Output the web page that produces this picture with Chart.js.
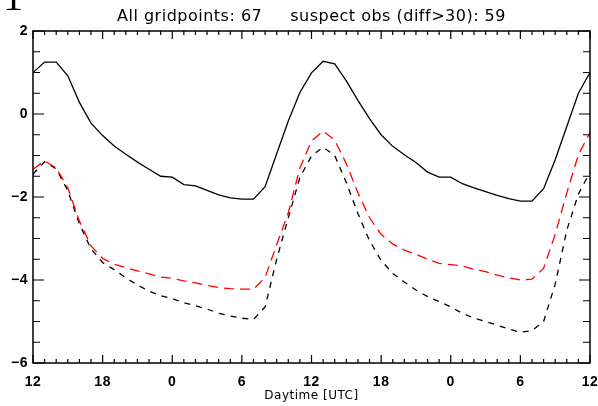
<!DOCTYPE html>
<html lang="en">
<head>
    <meta charset="UTF-8">
    <title>All gridpoints / suspect obs</title>
    <style>
        body {
            margin: 0;
            background: #ffffff;
            overflow: hidden;
        }
        .wrap {
            position: relative;
            width: 598px;
            height: 406px;
        }
        .corner {
            position: absolute;
            left: 3px;
            top: -27px;
            font-family: 'Liberation Serif', serif;
            font-size: 40px;
            color: #000;
        }
    </style>
</head>
<body>
    <div class="wrap">
        <canvas id="chart" width="598" height="406"></canvas>
        <div class="corner">1</div>
    </div>

    <script src="https://cdn.jsdelivr.net/npm/chart.js@4/dist/chart.umd.min.js"></script>
    <script>
        // hours since 12 UTC
        const hours = [0, 1, 2, 3, 4, 5, 6, 7, 8, 9, 10, 11, 12, 13, 14, 15, 16, 17, 18, 19, 20, 21, 22, 23, 24,
                       25, 26, 27, 28, 29, 30, 31, 32, 33, 34, 35, 36, 37, 38, 39, 40, 41, 42, 43, 44, 45, 46, 47, 48];
        const xTickLabels = ['12', '18', '0', '6', '12', '18', '0', '6', '12'];
        const yTickValues = [2, 0, -2, -4, -6];

        // black solid line
        const solidLine = [1.0, 1.25, 1.25, 0.92, 0.28, -0.22, -0.52, -0.77, -0.97, -1.16, -1.33, -1.5,
                           -1.52, -1.7, -1.73, -1.84, -1.95, -2.02, -2.05, -2.05, -1.75, -0.96, -0.17, 0.52,
                           0.99, 1.27, 1.21, 0.8, 0.33, -0.11, -0.5, -0.78, -0.98, -1.17, -1.4, -1.52,
                           -1.52, -1.68, -1.78, -1.87, -1.96, -2.04, -2.1, -2.1, -1.8, -1.1, -0.3, 0.5, 1.0];
        // red dashed line
        const redDashed = [-1.33, -1.13, -1.3, -1.78, -2.58, -3.18, -3.48, -3.62, -3.7, -3.78, -3.85, -3.93,
                           -3.96, -4.02, -4.07, -4.13, -4.18, -4.21, -4.22, -4.22, -3.94, -3.15, -2.38, -1.3,
                           -0.65, -0.41, -0.63, -1.2, -1.9, -2.5, -2.9, -3.13, -3.28, -3.38, -3.5, -3.6,
                           -3.63, -3.66, -3.74, -3.8, -3.88, -3.95, -4.0, -3.98, -3.72, -2.9, -1.9, -0.98, -0.45];
        // black dashed line
        const blackDashed = [-1.45, -1.15, -1.32, -1.85, -2.65, -3.25, -3.58, -3.75, -3.95, -4.12, -4.27, -4.38,
                             -4.45, -4.55, -4.62, -4.7, -4.8, -4.87, -4.92, -4.95, -4.65, -3.5, -2.5, -1.53,
                             -1.01, -0.8, -1.0, -1.65, -2.4, -3.05, -3.53, -3.84, -4.05, -4.24, -4.4, -4.52,
                             -4.65, -4.8, -4.92, -5.0, -5.09, -5.18, -5.26, -5.22, -5.0, -4.1, -2.8, -1.93, -1.4];

        const pts = arr => hours.map((h, i) => ({ x: h, y: arr[i] }));

        // the old IDL font is wide, spread the letters a bit
        const wideText = {
            id: 'wideText',
            beforeDraw(chart) { chart.ctx.letterSpacing = '0.5px'; },
            afterDraw(chart) { chart.ctx.letterSpacing = '0px'; }
        };

        // frame + inward ticks like the original plot
        const frameTicks = {
            id: 'frameTicks',
            afterDraw(chart) {
                const { ctx, chartArea: a, scales: { x, y } } = chart;
                ctx.save();
                ctx.strokeStyle = '#000';
                ctx.lineWidth = 1.5;
                ctx.strokeRect(a.left, a.top, a.right - a.left, a.bottom - a.top);
                ctx.lineWidth = 1.2;
                ctx.beginPath();
                for (let h = 0; h <= 48; h++) {
                    const px = x.getPixelForValue(h);
                    const len = h % 6 === 0 ? 8 : 4;
                    ctx.moveTo(px, a.bottom); ctx.lineTo(px, a.bottom - len);
                    ctx.moveTo(px, a.top); ctx.lineTo(px, a.top + len);
                }
                for (let v = -6; v <= 2; v += 0.5) {
                    const py = y.getPixelForValue(v);
                    const len = v % 2 === 0 ? 11 : 7;
                    ctx.moveTo(a.left, py); ctx.lineTo(a.left + len, py);
                    ctx.moveTo(a.right, py); ctx.lineTo(a.right - len, py);
                }
                ctx.stroke();
                ctx.restore();
            }
        };

        new Chart(document.getElementById('chart'), {
            type: 'line',
            data: {
                datasets: [
                    { data: pts(solidLine), borderColor: '#000', borderWidth: 1.3 },
                    { data: pts(redDashed), borderColor: '#ff0000', borderWidth: 1.3, borderDash: [10, 6] },
                    { data: pts(blackDashed), borderColor: '#000', borderWidth: 1.3, borderDash: [6, 6] }
                ]
            },
            options: {
                responsive: false,
                animation: false,
                layout: { padding: { left: 0, right: 8, top: 0, bottom: 0 } },
                elements: { point: { radius: 0 }, line: { tension: 0 } },
                plugins: {
                    legend: { display: false },
                    tooltip: { enabled: false },
                    title: {
                        display: true,
                        fullSize: false,
                        text: 'All gridpoints: 67\u00a0\u00a0\u00a0\u00a0\u00a0suspect obs (diff>30): 59',
                        color: '#000',
                        font: { family: 'DejaVu Sans', size: 16, weight: 'normal', lineHeight: 1.2 },
                        padding: { top: 7, bottom: 4.8 }
                    }
                },
                scales: {
                    x: {
                        type: 'linear',
                        min: 0,
                        max: 48,
                        afterFit: s => { s.height = 43; s.paddingLeft = 0; s.paddingRight = 0; },
                        grid: { display: false, drawTicks: false },
                        border: { display: false },
                        ticks: {
                            stepSize: 6,
                            padding: 11,
                            maxRotation: 0,
                            color: '#000',
                            font: { family: 'Liberation Sans', size: 14, weight: 'bold' },
                            callback: v => xTickLabels[v / 6]
                        },
                        title: {
                            display: true,
                            text: 'Daytime [UTC]',
                            color: '#000',
                            font: { family: 'DejaVu Sans', size: 12 },
                            padding: { top: 0, bottom: 3 }
                        }
                    },
                    y: {
                        min: -6,
                        max: 2,
                        afterFit: s => { s.width = 33; s.paddingTop = 0; s.paddingBottom = 0; },
                        grid: { display: false, drawTicks: false },
                        border: { display: false },
                        afterBuildTicks: s => { s.ticks = yTickValues.map(v => ({ value: v })); },
                        ticks: {
                            padding: 5,
                            color: '#000',
                            font: { family: 'Liberation Sans', size: 14, weight: 'bold' },
                            callback: v => String(v).replace('-', '\u2212')
                        }
                    }
                }
            },
            plugins: [wideText, frameTicks]
        });
    </script>
</body>
</html>
